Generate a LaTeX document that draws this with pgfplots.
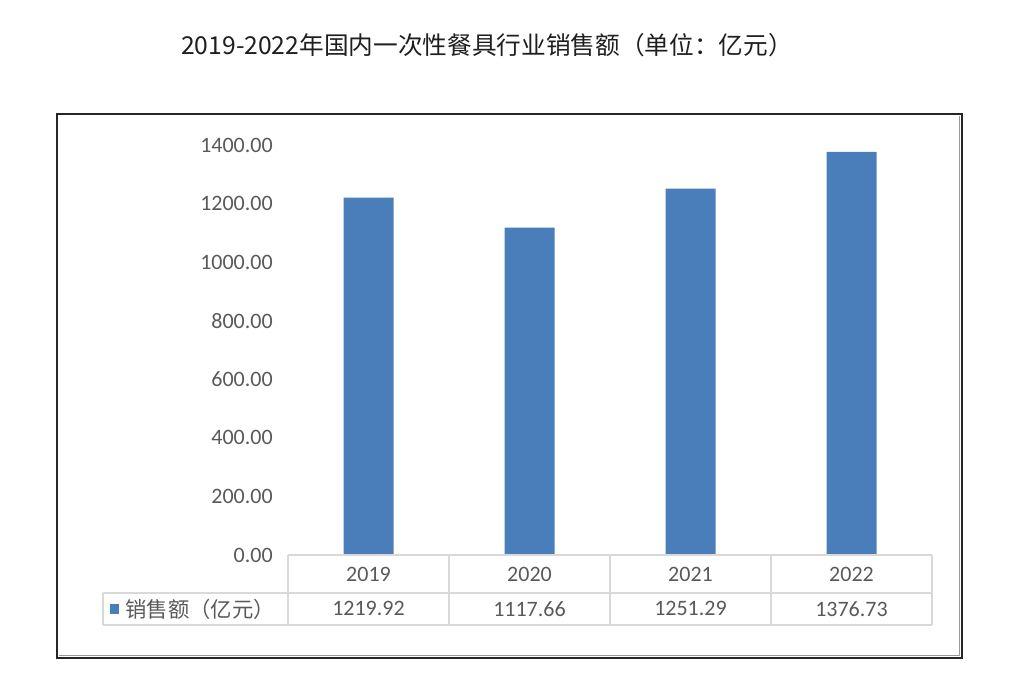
\documentclass[border=0pt]{standalone}
\usepackage{pgfplots}
\pgfplotsset{compat=1.18}
\usepackage{pgfplotstable}
\usepackage{fontspec}
\setmainfont{Carlito}
\newfontfamily\cjk{Noto Sans CJK SC}
\definecolor{barblue}{HTML}{4A7EBB}
\definecolor{txt}{HTML}{595959}
\definecolor{gridc}{HTML}{D9D9D9}

\pgfplotstableread{
x year sales
0 2019 1219.92
1 2020 1117.66
2 2021 1251.29
3 2022 1376.73
}\datatable

\begin{document}
\begin{tikzpicture}
\useasboundingbox (0pt,0pt) rectangle (756.75pt,511.5pt);
\begin{axis}[
  at={(216pt,95.25pt)}, anchor=south west,
  scale only axis, width=483pt, height=307.5pt,
  xmin=-0.5, xmax=3.5, ymin=0, ymax=1400,
  ytick={0,200,400,600,800,1000,1200,1400},
  xtick={0,1,2,3}, xticklabels={2019,2020,2021,2022},
  axis line style={draw=none}, tick style={draw=none},
  /pgf/number format/fixed, /pgf/number format/fixed zerofill,
  /pgf/number format/precision=2, /pgf/number format/1000 sep={},
  /pgf/number format/assume math mode=true,
  yticklabel style={anchor=east, inner sep=0pt, xshift=-11.25pt,
    font=\fontsize{16.5}{18}\selectfont, text=txt},
  xticklabel style={anchor=center, inner sep=0pt, yshift=-14.25pt,
    font=\fontsize{16.5}{18}\selectfont, text=txt},
  clip=false,
  legend style={at={(-0.2764,-0.1317)}, anchor=west, draw=none, fill=none,
    inner sep=0pt, outer sep=0pt,
    nodes={inner sep=0pt, text=txt, font=\cjk\fontsize{16}{18}\selectfont},
    /tikz/every odd column/.style={column sep=4.5pt}},
  legend image code/.code={\fill[barblue] (0pt,-3.6pt) rectangle (7pt,3.9pt);},
]
\addplot[ybar, bar width=37.5pt, fill=barblue, draw=none] table[x=x, y=sales]{\datatable};
\addlegendentry{销售额（亿元）}
\addplot[draw=none, mark=none, forget plot, nodes near coords, point meta=explicit,
  every node near coord/.append style={anchor=center, inner sep=0pt,
    font=\fontsize{16.5}{18}\selectfont, text=txt}]
  table[x=x, y expr=-184, meta=sales]{\datatable};
\end{axis}
\begin{scope}[x=0.75pt, y=-0.75pt, shift={(0pt,511.5pt)}]
  \draw[gridc, line width=0.8pt] (288,555) -- (932,555);
  \draw[gridc, line width=0.8pt] (103,593) -- (932,593);
  \draw[gridc, line width=0.8pt] (103,625) -- (932,625);
  \foreach \x in {288,449,610,771,932} \draw[gridc, line width=0.8pt] (\x,555) -- (\x,625);
  \draw[gridc, line width=0.8pt] (103,593) -- (103,625);
  \draw[black!85, line width=1.5pt] (57,114) rectangle (962,658);
  \draw[black!40, line width=1pt] (59,655.5) -- (959.5,655.5) -- (959.5,116);
  \node[font=\cjk\fontsize{18.5}{22}\selectfont, text=black!88] at (487,45)
    {2019-2022年国内一次性餐具行业销售额（单位：亿元）};
\end{scope}
\end{tikzpicture}
\end{document}
